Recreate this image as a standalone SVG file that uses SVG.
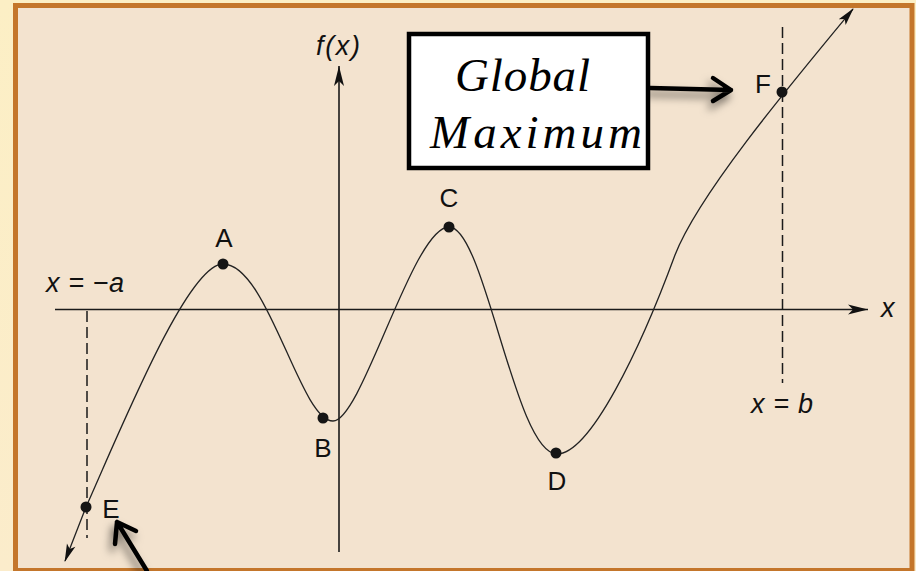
<svg xmlns="http://www.w3.org/2000/svg" width="916" height="571" viewBox="0 0 916 571">
<style>
.axis{stroke:#1a1a1a;stroke-width:1.6;fill:none}
.dash{stroke:#1a1a1a;stroke-width:1.5;stroke-dasharray:11 5;fill:none}
.curve{stroke:#222;stroke-width:1.3;fill:none}
.dot{fill:#151515}
.lbl{font-family:"Liberation Sans",Arial,sans-serif;font-size:26px;fill:#111;text-anchor:middle}
.it{font-family:"Liberation Sans",Arial,sans-serif;font-size:27px;font-style:italic;fill:#111}
.big{font-family:"Liberation Serif","Times New Roman",serif;font-size:47px;font-style:italic;fill:#000}
.callout{stroke:#000;stroke-width:4.5;fill:none;stroke-linecap:round;stroke-linejoin:round}
</style>
<defs>
<linearGradient id="bg" x1="0" y1="0" x2="0" y2="1">
<stop offset="0" stop-color="#fcefc5"/>
<stop offset="1" stop-color="#fbeccb"/>
</linearGradient>
<marker id="ah" markerUnits="userSpaceOnUse" markerWidth="22" markerHeight="12" refX="20" refY="5" orient="auto" overflow="visible">
<path d="M0,0 L20,5 L0,10 L5,5 Z" fill="#111"/>
</marker>
<marker id="ahc" markerUnits="userSpaceOnUse" markerWidth="20" markerHeight="10" refX="17" refY="4.5" orient="auto-start-reverse" overflow="visible">
<path d="M0,0 L18,4.5 L0,9 L4,4.5 Z" fill="#111"/>
</marker>
<filter id="sh" x="-50%" y="-50%" width="200%" height="200%">
<feDropShadow dx="-3" dy="6" stdDeviation="4" flood-color="#000" flood-opacity="0.55"/>
</filter>
</defs>
<rect x="0" y="0" width="916" height="571" fill="url(#bg)"/>
<rect x="15.5" y="5.5" width="896.5" height="565" fill="#f3e3cf" stroke="#c4762b" stroke-width="5"/>

<g id="connectors">
<line class="axis" x1="55" y1="309.5" x2="868" y2="309.5" marker-end="url(#ah)"/>
<line class="axis" x1="339" y1="552" x2="339" y2="66" marker-end="url(#ah)"/>
<line class="dash" x1="87" y1="311" x2="87" y2="538"/>
<line class="dash" x1="782.5" y1="27" x2="782.5" y2="383"/>
<path class="curve" marker-start="url(#ahc)" marker-end="url(#ahc)" d="M65,561 L86,507 C123,424 188,264 223,264 C268,264 300,421 333,421 C362,421 413,227 449,227 C485,227 515,454 557,454 C590,454 640,350 675,255 C698,195 790,85 853,9"/>
<g filter="url(#sh)">
<path class="callout" d="M650,88 L731,90 M713,78 L731,90 L713,101"/>
<path class="callout" d="M147,571 L117,522 M136,531 L117,522 L115,544"/>
</g>
</g>

<g id="A"><circle class="dot" cx="223" cy="264" r="5.5"/><text class="lbl" x="224" y="247">A</text></g>
<g id="B"><circle class="dot" cx="323" cy="418" r="5.5"/><text class="lbl" x="323" y="457">B</text></g>
<g id="C"><circle class="dot" cx="449" cy="227" r="5.5"/><text class="lbl" x="449" y="207">C</text></g>
<g id="D"><circle class="dot" cx="556" cy="453" r="5.5"/><text class="lbl" x="557" y="490">D</text></g>
<g id="E"><circle class="dot" cx="86" cy="507" r="5.5"/><text class="lbl" x="111" y="518">E</text></g>
<g id="F"><circle class="dot" cx="782" cy="92" r="5.5"/><text class="lbl" x="763" y="93">F</text></g>

<g id="labels">
<text class="it" x="316" y="55" textLength="44" lengthAdjust="spacing">f(x)</text>
<text class="it" x="881" y="317">x</text>
<text class="it" x="46" y="292" textLength="78" lengthAdjust="spacing">x = −a</text>
<text class="it" x="751" y="413" textLength="62" lengthAdjust="spacing">x = b</text>
</g>

<g id="global-maximum">
<rect x="409" y="34" width="239" height="134" fill="#fff" stroke="#000" stroke-width="4.5"/>
<text class="big" x="455" y="91" textLength="135" lengthAdjust="spacing">Global</text>
<text class="big" x="430" y="148" textLength="212" lengthAdjust="spacing">Maximum</text>
</g>
</svg>
